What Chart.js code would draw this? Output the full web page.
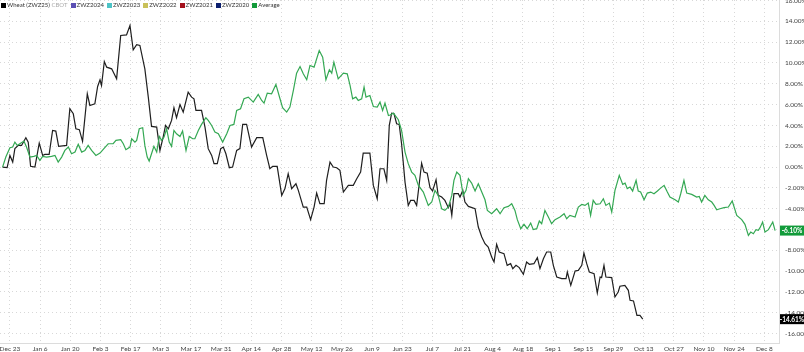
<!DOCTYPE html>
<html>
<head>
<meta charset="utf-8">
<script src="https://cdn.jsdelivr.net/npm/chart.js@4.4.1/dist/chart.umd.min.js"></script>
<style>
  html, body { margin: 0; padding: 0; background: #fff; }
  #wrap { position: relative; width: 804px; height: 352px; overflow: hidden; }
  #chart { display: block; }
  #legend { position: absolute; left: 1px; top: 1px; font: 6px Lato, sans-serif; color: #333; white-space: nowrap; }
  #legend span.sw { display: inline-block; width: 5px; height: 5px; margin: 0 1px 0 0; vertical-align: -0.5px; }
  #legend span.it { margin-right: 3px; }
  #legend span.src { color: #aaa; }
</style>
</head>
<body>
<div id="wrap">
  <canvas id="chart" width="804" height="352"></canvas>
  <div id="legend"></div>
</div>
<script>
"use strict";

//////// DATA ////////
// x = days from Dec 23, y = % change
const tick_labels = ['Dec 23', 'Jan 6', 'Jan 20', 'Feb 3', 'Feb 17', 'Mar 3', 'Mar 17', 'Mar 31',
  'Apr 14', 'Apr 28', 'May 12', 'May 26', 'Jun 9', 'Jun 23', 'Jul 7', 'Jul 21', 'Aug 4', 'Aug 18',
  'Sep 1', 'Sep 15', 'Sep 29', 'Oct 13', 'Oct 27', 'Nov 10', 'Nov 24', 'Dec 8'];

const wheat_days = [-3.4, -1.3, 0, 1.3, 2.3, 3.9, 5.4, 7.4, 8.5, 9.6, 11.6, 13.6, 15.2, 16.2, 18.2, 19.8,
  21.3, 22.6, 26.3, 27.8, 29.4, 30.6, 32.2, 33.7, 35.9, 37.1, 39.4, 40.7, 41.8, 42.5, 43.8, 44.9, 47.2,
  49.5, 51.4, 54.1, 55.7, 57.2, 58.8, 60.3, 62.6, 64.2, 65.7, 68.1, 69.6, 71.1, 72.2, 73.5, 75.0, 76.1,
  77.3, 78.9, 80.4, 82.7, 84.3, 85.4, 86.3, 88.9, 90.5, 92.0, 93.6, 94.7, 96.2, 97.8, 99.0, 100.2, 101.8,
  103.3, 105.2, 106.7, 108.0, 109.8, 112.1, 114.5, 117.3, 119.1, 120.6, 121.9, 124.0, 126.1, 127.6, 129.1,
  130.7, 132.7, 133.8, 136.1, 137.7, 139.5, 141.1, 142.3, 143.8, 145.8, 146.9, 148.5, 150.0, 151.6, 153.1,
  154.7, 157.0, 159.3, 160.9, 162.7, 163.9, 167.0, 168.6, 170.4, 171.7, 173.5, 174.8, 176.0, 177.1, 178.2,
  179.4, 180.6, 181.7, 183.3, 184.8, 185.9, 187.5, 188.7, 189.9, 191.0, 192.1, 193.6, 194.9, 196.1, 197.7,
  198.7, 200.3, 201.8, 203.4, 204.2, 205.0, 206.0, 208.0, 208.8, 210.1, 211.1, 212.7, 215.8, 217.3, 218.9,
  220.4, 221.9, 223.5, 224.6, 225.8, 227.0, 229.2, 230.7, 232.3, 233.3, 234.8, 236.3, 238.2, 239.7, 241.0,
  243.1, 244.7, 245.9, 247.5, 249.0, 250.9, 252.1, 253.7, 256.0, 258.0, 258.6, 260.2, 262.2, 263.7, 265.3,
  266.3, 267.6, 268.8, 271.0, 272.5, 273.8, 274.5, 275.6, 276.5, 279.2, 280.7, 282.2, 283.0, 285.3, 286.9,
  287.7, 289.3, 290.9, 292.3, 293.6];
const wheat_pct = [0, -0.06, 1.12, 0.48, 1.77, 2.08, 2.08, 2.82, 2.4, 0.07, 0, 2.3, 1.12, 1.22, 1.22, 3.52,
  3.46, 1.99, 2.08, 5.6, 5.12, 3.68, 3.59, 2.47, 7.04, 5.92, 6.08, 7.74, 8.39, 7.84, 10.14, 9.6, 9.44,
  8.48, 12.64, 12.7, 13.6, 11.27, 11.75, 11.68, 9.44, 6.72, 3.91, 3.84, 1.6, 2.88, 4.0, 3.68, 4.48, 5.7,
  4.74, 6.01, 5.28, 7.2, 6.72, 6.56, 5.44, 5.44, 3.84, 1.77, 1.12, 0.33, 0.33, 1.77, 1.92, 1.28, -0.06,
  0, 1.6, 1.77, 4.1, 4.1, 1.92, 2.82, 2.82, 1.12, -0.16, 0.07, 0.07, -2.72, -2.07, -0.63,
  -2.07, -1.6, -2.24, -3.84, -3.84, -5.05, -3.84, -2.5, -3.52, -3.52, -1.28, 0.48, 0, -0.06, -0.32,
  -2.4, -1.76, -1.76, -1.12, -0.48, 1.34, 1.34, -1.76, -3.04, -0.16, -0.16, -1.28, 4.0, 5.18, 5.12,
  4.16, 4.1, 2.24, -1.44, -3.68, -3.2, -3.2, -3.68, -1.6, 0.38, -0.48, -0.58, -1.98, -2.3, -1.21,
  -2.72, -2.88, -3.2, -3.9, -3.52, -4.64, -2.56, -2.56, -2.88, -2.24, -3.36, -3.78, -4.0, -5.76, -6.72,
  -7.36, -7.68, -8.64, -9.12, -7.42, -8.16, -8.32, -9.44, -9.28, -9.76, -9.44, -9.66, -10.3, -9.12, -9.34,
  -9.28, -8.7, -9.76, -8.8, -8.16, -8.16, -9.44, -10.56, -10.72, -10.72, -10.08, -11.36, -9.98, -9.92, -9.44,
  -8.26, -9.28, -10.08, -10.24, -12.1, -10.56, -10.62, -9.44, -10.56, -10.62, -12.48, -12.0, -11.45, -11.36, -11.84,
  -12.8, -12.86, -14.24, -14.24, -14.61];

const avg_days = [-3.4, -1.9, 0, 1.3, 2.3, 3.4, 4.6, 6.5, 7.7, 9.3, 11.1, 12.4, 13.9, 15.2, 17.0, 19.3,
  20.9, 22.4, 24.0, 25.5, 27.1, 28.6, 30.2, 31.7, 33.3, 34.8, 36.3, 37.9, 39.9, 41.8, 43.6, 45.6, 47.9,
  49.2, 51.4, 52.6, 53.8, 55.7, 56.5, 58.0, 58.8, 60.0, 61.6, 62.6, 63.7, 64.6, 65.7, 66.8, 68.1, 69.3,
  70.4, 71.5, 72.7, 73.9, 75.0, 76.1, 77.3, 78.9, 80.1, 81.7, 83.2, 84.8, 85.8, 87.4, 88.9, 90.9, 92.0,
  93.6, 95.1, 96.7, 98.7, 100.6, 102.1, 103.9, 105.2, 107.0, 108.6, 110.6, 112.9, 115.2, 116.8, 117.9,
  119.4, 121.4, 123.4, 125.3, 126.5, 128.4, 129.9, 131.5, 133.0, 134.6, 136.1, 137.7, 139.2, 141.1, 143.5,
  145.1, 146.6, 148.2, 149.3, 150.3, 152.3, 154.7, 156.5, 157.8, 159.0, 160.5, 161.6, 163.2, 164.3, 165.2,
  167.0, 168.6, 170.4, 171.7, 172.9, 174.0, 175.6, 176.4, 177.9, 180.2, 181.7, 183.3, 184.8, 186.4, 187.9,
  189.5, 191.8, 194.1, 195.7, 197.2, 198.7, 200.3, 201.8, 203.4, 205.0, 206.0, 207.3, 208.8, 210.3, 211.6,
  212.7, 214.2, 215.8, 217.3, 218.9, 220.4, 221.5, 223.5, 225.8, 227.4, 229.2, 231.2, 232.8, 234.3, 235.4,
  237.0, 238.5, 240.0, 241.6, 242.8, 244.4, 245.6, 246.7, 248.2, 249.8, 251.3, 252.9, 255.2, 257.1, 258.3,
  259.8, 262.2, 263.7, 265.3, 266.8, 268.3, 269.4, 270.6, 271.9, 273.8, 275.3, 276.5, 278.1, 279.2, 280.7,
  282.7, 284.3, 285.4, 286.4, 287.7, 288.9, 290.5, 291.5, 292.6, 294.2, 295.7, 297.3, 298.8, 300.4, 301.6,
  303.5, 305.0, 306.2, 308.6, 310.1, 311.2, 312.7, 314.0, 316.3, 318.6, 319.8, 320.9, 322.4, 324.0, 325.6,
  326.7, 327.9, 329.4, 331.3, 333.3, 335.1, 337.2, 339.5, 341.0, 342.6, 343.7, 344.9, 346.1, 347.2, 348.0,
  349.2, 350.3, 351.9, 353.9, 355.0];
const avg_pct = [0, 0.96, 1.86, 1.92, 2.4, 2.08, 2.24, 2.5, 1.92, 0.96, 1.03, 1.12, 0.64, 1.03, 0.96, 1.03,
  1.12, 0.48, 0.96, 1.6, 1.92, 1.28, 1.44, 2.18, 1.44, 1.6, 2.08, 1.6, 1.12, 1.34, 1.77, 2.24, 2.24,
  2.56, 2.63, 2.24, 1.67, 1.92, 2.72, 2.4, 2.56, 3.68, 3.78, 2.08, 0.96, 0.58, 1.28, 1.99, 1.44, 2.94,
  2.56, 2.88, 3.68, 2.4, 1.99, 3.52, 3.2, 2.94, 3.46, 1.6, 2.94, 2.72, 2.72, 3.52, 4.1, 4.74, 4.48,
  4.0, 3.36, 3.2, 2.4, 3.2, 4.0, 4.1, 5.44, 5.6, 6.56, 6.72, 6.24, 6.98, 6.4, 6.14,
  7.1, 7.04, 7.94, 6.56, 5.7, 5.28, 5.76, 7.36, 9.02, 9.66, 8.96, 8.39, 9.76, 9.6, 11.2,
  10.56, 8.39, 9.35, 9.02, 10.08, 8.48, 9.02, 8.96, 7.84, 6.56, 6.72, 6.4, 6.56, 7.68, 6.72,
  6.88, 5.82, 5.76, 6.24, 5.44, 6.14, 4.96, 5.0, 5.18, 4.55, 3.52, 1.44, 0.33, -0.48, -0.8,
  -1.76, -2.4, -3.68, -3.36, -2.24, -2.72, -4.0, -4.16, -3.84, -2.72, -1.28, -0.48, -0.8, -2.72, -2.24,
  -1.12, -1.54, -2.3, -1.6, -2.4, -3.14, -4.16, -4.48, -4.0, -4.48, -3.9, -3.78, -3.52, -4.16, -5.05,
  -5.92, -5.5, -5.92, -5.38, -6.01, -5.92, -5.18, -5.44, -4.16, -4.8, -5.44, -5.05, -4.8, -4.48, -4.96,
  -4.64, -4.8, -3.84, -3.59, -3.68, -3.46, -4.64, -3.2, -3.59, -3.52, -3.04, -3.68, -3.46, -4.32, -2.24,
  -0.8, -1.66, -1.54, -2.07, -1.92, -2.3, -1.28, -2.3, -2.4, -3.14, -2.5, -2.4, -2.56, -2.3, -2.07,
  -1.76, -2.4, -2.88, -3.14, -3.36, -2.56, -1.28, -2.5, -2.62, -2.88, -2.82, -3.36, -2.72, -3.14, -3.36,
  -3.68, -4.1, -4.0, -3.9, -3.84, -3.26, -4.64, -5.05, -5.5, -6.56, -6.24, -6.4, -6.01, -6.08, -5.82,
  -5.28, -6.24, -6.01, -5.28, -6.10];

const legend_items = [
  {label: 'Wheat (ZWZ25)', extra: 'CBOT', color: '#000000'},
  {label: 'ZWZ2024', color: '#5b4fb3'},
  {label: 'ZWZ2023', color: '#4cc3c6'},
  {label: 'ZWZ2022', color: '#c9c15a'},
  {label: 'ZWZ2021', color: '#a3101c'},
  {label: 'ZWZ2020', color: '#0c1f6e'},
  {label: 'Average', color: '#139a3a'},
];

const WHEAT_COLOR = '#1f1f1f';
const AVG_COLOR = '#34a853';
const AVG_BOX = '#119b3a';
const GRID_COLOR = '#d8d8d8';

//////// HELPERS ////////
function zip_points(xs, ys) {
  return xs.map((x, i) => ({x: x, y: ys[i]}));
}

function pct_label(v) {
  return v.toFixed(2) + '%';
}

// drop the edge padding chart.js reserves for the outer tick labels
function no_edge_padding(axis) {
  axis.paddingTop = 0;
  axis.paddingBottom = 0;
  axis.paddingLeft = 0;
  axis.paddingRight = 0;
}

// legend (html)
const legend_node = document.getElementById('legend');
legend_items.forEach(item => {
  const it = document.createElement('span');
  it.className = 'it';
  const sw = document.createElement('span');
  sw.className = 'sw';
  sw.style.background = item.color;
  it.appendChild(sw);
  it.appendChild(document.createTextNode(item.label));
  if (item.extra) {
    const src = document.createElement('span');
    src.className = 'src';
    src.textContent = ' ' + item.extra;
    it.appendChild(src);
  }
  legend_node.appendChild(it);
});

// last value boxes on the right axis
const end_labels_plugin = {
  id: 'endLabels',
  afterDraw(chart) {
    const ctx = chart.ctx;
    const y_scale = chart.scales.y;
    const left = chart.chartArea.right + 1;
    const width = chart.width - left;
    chart.data.datasets.forEach(ds => {
      if (!ds.endBox) return;
      const last = ds.data[ds.data.length - 1].y;
      const y = y_scale.getPixelForValue(last);
      ctx.save();
      ctx.fillStyle = ds.endBox;
      ctx.fillRect(left, y - 5, width, 10);
      ctx.fillStyle = '#fff';
      ctx.font = 'bold 6.5px Lato, sans-serif';
      ctx.textAlign = 'center';
      ctx.textBaseline = 'middle';
      ctx.fillText(pct_label(last), left + width / 2, y + 0.5);
      ctx.restore();
    });
  }
};

//////// CHART ////////
const chart_ctx = document.getElementById('chart').getContext('2d');
const main_chart = new Chart(chart_ctx, {
  type: 'line',
  data: {
    datasets: [
      {
        label: 'Average',
        data: zip_points(avg_days, avg_pct),
        borderColor: AVG_COLOR,
        borderWidth: 1.2,
        pointRadius: 0,
        tension: 0,
        endBox: AVG_BOX,
      },
      {
        label: 'Wheat (ZWZ25)',
        data: zip_points(wheat_days, wheat_pct),
        borderColor: WHEAT_COLOR,
        borderWidth: 1.2,
        pointRadius: 0,
        tension: 0,
        endBox: '#000000',
      },
    ]
  },
  options: {
    responsive: false,
    animation: false,
    layout: { padding: 0, autoPadding: false },
    plugins: {
      legend: { display: false },
      tooltip: { enabled: false },
    },
    scales: {
      x: {
        type: 'linear',
        min: -4.6,
        max: 356.8,
        afterBuildTicks(axis) {
          axis.ticks = tick_labels.map((l, i) => ({value: i * 14}));
        },
        afterFit(axis) {
          axis.height = 9;
          no_edge_padding(axis);
        },
        grid: {
          color: GRID_COLOR,
          tickLength: 0,
        },
        border: { color: '#dcdcdc', dash: [1, 3] },
        ticks: {
          autoSkip: false,
          maxRotation: 0,
          padding: 2,
          color: '#444',
          font: { family: 'Lato, sans-serif', size: 6.5 },
          callback: (v, i) => tick_labels[i],
        },
      },
      y: {
        position: 'right',
        min: -16.9,
        max: 16.05,
        afterFit(axis) {
          axis.width = 25;
          no_edge_padding(axis);
        },
        grid: {
          color: GRID_COLOR,
          tickLength: 0,
        },
        border: { color: '#dcdcdc', dash: [1, 3] },
        ticks: {
          stepSize: 2,
          includeBounds: false,
          padding: 6,
          color: '#444',
          font: { family: 'Lato, sans-serif', size: 6.5 },
          callback: v => pct_label(v),
        },
      }
    }
  },
  plugins: [end_labels_plugin]
});
</script>
</body>
</html>
